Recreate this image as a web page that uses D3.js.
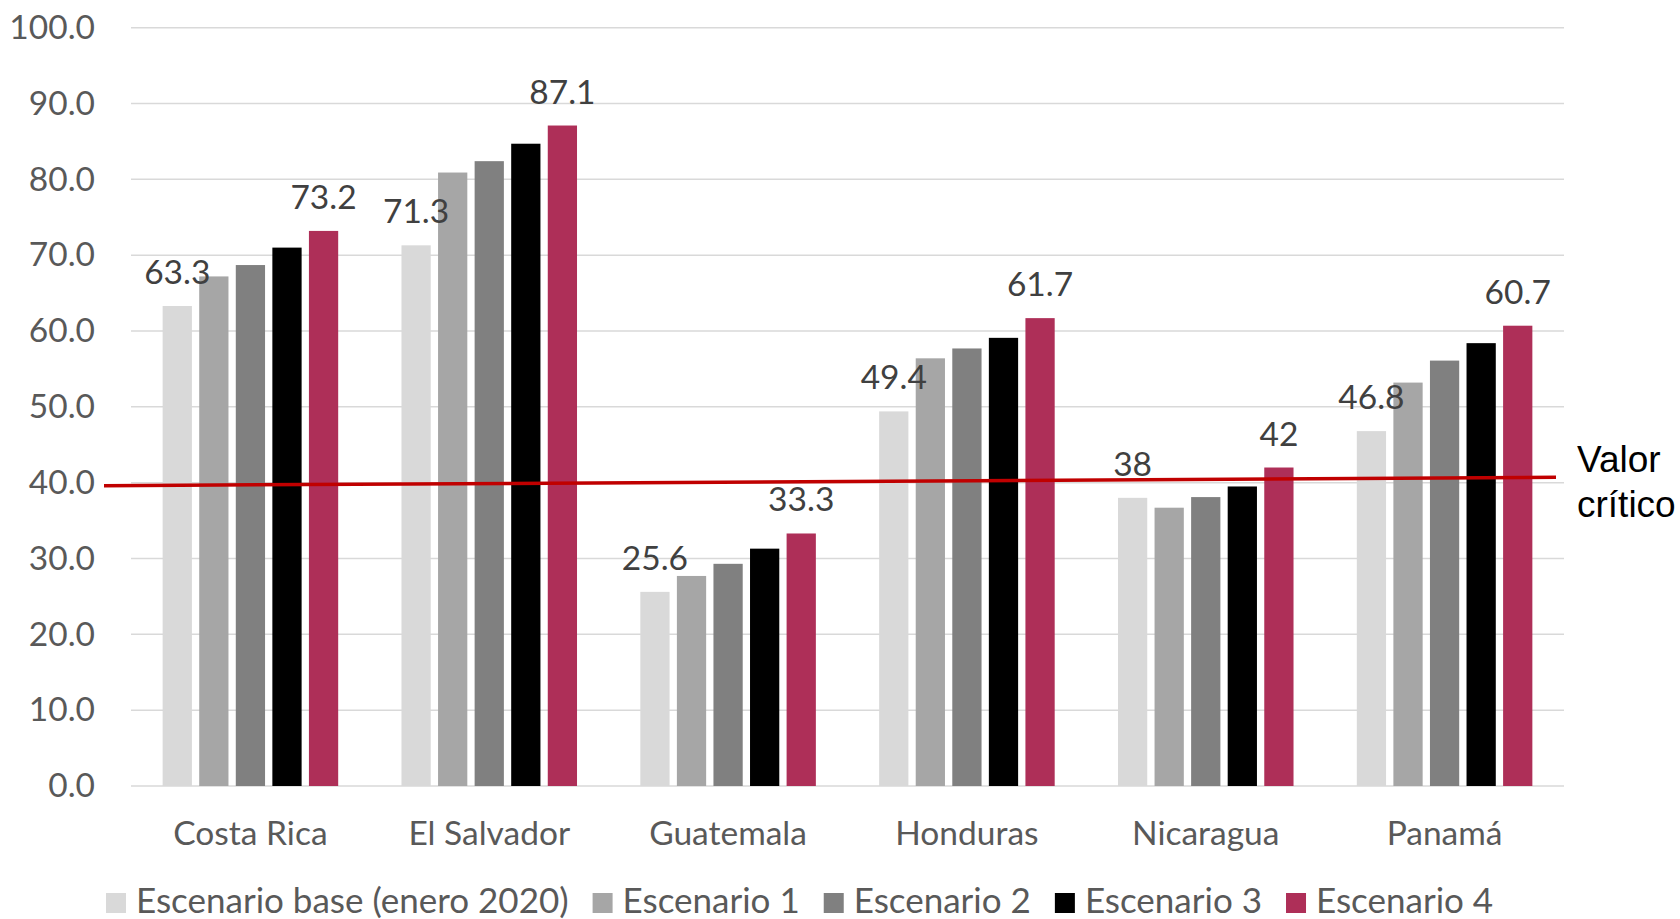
<!DOCTYPE html>
<html>
<head>
<meta charset="utf-8">
<script src="https://cdn.jsdelivr.net/npm/d3@7"></script>
<style>
  html, body { margin: 0; padding: 0; background: #fff; }
  svg { display: block; }
</style>
</head>
<body>
<svg id="chart" width="1680" height="919"></svg>
<script>
// countries on the x axis
var countries = ["Costa Rica", "El Salvador", "Guatemala", "Honduras", "Nicaragua", "Panamá"];
// scenario names (legend order)
var scenarios = ["Escenario base (enero 2020)", "Escenario 1", "Escenario 2", "Escenario 3", "Escenario 4"];
var scenarioColors = ["#D9D9D9", "#A6A6A6", "#808080", "#000000", "#AE2F58"];

// values per scenario, one per country
var escBase = [63.3, 71.3, 25.6, 49.4, 38, 46.8];
var esc1 = [67.2, 80.9, 27.7, 56.4, 36.7, 53.2];
var esc2 = [68.7, 82.4, 29.3, 57.7, 38.1, 56.1];
var esc3 = [71.0, 84.7, 31.3, 59.1, 39.5, 58.4];
var esc4 = [73.2, 87.1, 33.3, 61.7, 42, 60.7];

// y ticks
var yTicks = [0, 10, 20, 30, 40, 50, 60, 70, 80, 90, 100];

// hand drawn "valor critico" line, value at its left and right end
var criticalLine = [39.6, 40.7];

var series = [escBase, esc1, esc2, esc3, esc4];
var labelled = [0, 4];   // series with data labels

var svg = d3.select("#chart");
var font = "Lato, 'Open Sans', sans-serif";
var fontSize = 33.5;

var plotLeft = 131, plotRight = 1564, plotTop = 27.7, plotBottom = 786;

var x0 = d3.scaleBand().domain(countries).range([plotLeft, plotRight])
    .paddingInner(0.265).paddingOuter(0.1325);
var x1 = d3.scaleBand().domain(d3.range(scenarios.length)).range([0, x0.bandwidth()])
    .paddingInner(0.2);
var y = d3.scaleLinear().domain([0, 100]).range([plotBottom, plotTop]);

// grid lines
svg.append("g").selectAll("line")
  .data(yTicks).enter().append("line")
    .attr("x1", plotLeft).attr("x2", plotRight)
    .attr("y1", function(d) { return y(d); })
    .attr("y2", function(d) { return y(d); })
    .attr("stroke", "#D9D9D9")
    .attr("stroke-width", 1.5);

// y axis labels
var yAxis = d3.axisLeft(y).tickValues(yTicks).tickFormat(d3.format(".1f")).tickSize(0).tickPadding(0);
var gy = svg.append("g").attr("transform", "translate(95,0)").call(yAxis);
gy.select(".domain").remove();
gy.selectAll("text")
  .attr("font-family", font).attr("font-size", fontSize).attr("fill", "#595959");

// x axis labels
var xAxis = d3.axisBottom(x0).tickSize(0).tickPadding(0);
var gx = svg.append("g").attr("transform", "translate(0,821)").call(xAxis);
gx.select(".domain").remove();
gx.selectAll("text")
  .attr("font-family", font).attr("font-size", fontSize).attr("fill", "#595959");

// bars
var groups = svg.append("g").selectAll("g")
  .data(countries).enter().append("g")
    .attr("transform", function(d) { return "translate(" + x0(d) + ",0)"; });

groups.selectAll("rect")
  .data(function(d, i) { return series.map(function(s, k) { return { k: k, v: s[i] }; }); })
  .enter().append("rect")
    .attr("x", function(d) { return x1(d.k); })
    .attr("width", x1.bandwidth())
    .attr("y", function(d) { return y(d.v); })
    .attr("height", function(d) { return y(0) - y(d.v); })
    .attr("fill", function(d) { return scenarioColors[d.k]; });

// data labels
groups.selectAll("text.lbl")
  .data(function(d, i) { return labelled.map(function(k) { return { k: k, v: series[k][i] }; }); })
  .enter().append("text")
    .attr("class", "lbl")
    .attr("x", function(d) { return x1(d.k) + x1.bandwidth() / 2; })
    .attr("y", function(d) { return y(d.v) - 22; })
    .attr("text-anchor", "middle")
    .attr("font-family", font).attr("font-size", fontSize).attr("fill", "#404040")
    .text(function(d) { return d.v; });

// critical value line
svg.append("line")
  .attr("x1", plotLeft - 27).attr("x2", plotRight - 8)
  .attr("y1", y(criticalLine[0])).attr("y2", y(criticalLine[1]))
  .attr("stroke", "#C00000")
  .attr("stroke-width", 3.5);

var crit = svg.append("text")
  .attr("font-family", "'Liberation Sans', Arial, sans-serif")
  .attr("font-size", 37).attr("fill", "#000");
crit.append("tspan").attr("x", 1577).attr("y", 472).text("Valor");
crit.append("tspan").attr("x", 1577).attr("y", 517).text("crítico");

// legend
var legend = svg.append("g");
var items = legend.selectAll("g").data(scenarios).enter().append("g");
items.append("rect")
  .attr("width", 20).attr("height", 20).attr("y", 893)
  .attr("fill", function(d, i) { return scenarioColors[i]; });
items.append("text")
  .attr("x", 30).attr("y", 913)
  .attr("font-family", font).attr("font-size", 35).attr("fill", "#595959")
  .text(function(d) { return d; });

var offsets = [], pos = 0;
items.each(function() {
  offsets.push(pos);
  pos += 30 + this.querySelector("text").getComputedTextLength() + 24;
});
var start = 106;
items.attr("transform", function(d, i) { return "translate(" + (start + offsets[i]) + ",0)"; });
</script>
</body>
</html>
